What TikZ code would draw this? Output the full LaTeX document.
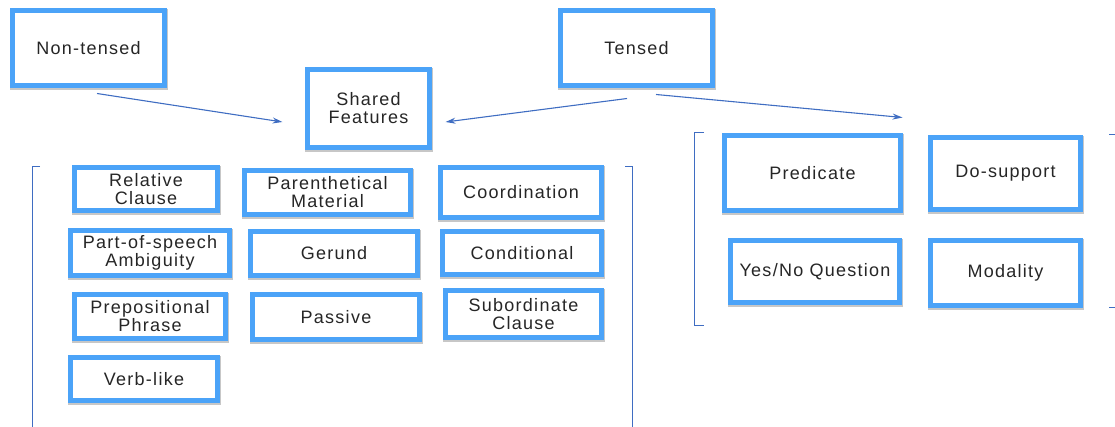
\documentclass[tikz,border=0pt]{standalone}
\usepackage{fontspec}
\usepackage{tikz}
\usetikzlibrary{arrows.meta}
\newfontfamily\boxfont{Liberation Sans}[LetterSpace=7]
\definecolor{boxblue}{HTML}{4BA3F8}
\definecolor{arrblue}{HTML}{3F6DC2}

\tikzset{
  feat/.style={draw=boxblue, line width=5pt, fill=white, align=center,
    inner sep=2pt, text=black!85,
    font=\boxfont\fontsize{18}{18}\selectfont,
    preaction={draw=black!22, line width=6pt,
      transform canvas={shift={(0.8pt,-1.2pt)}}}},
  brk/.style={draw=arrblue, line width=1pt},
}

\begin{document}
\begin{tikzpicture}[x=1pt, y=-1pt, >={Stealth[length=10pt,width=6pt]}]
\useasboundingbox (0,0) rectangle (1115,427);
% top level
\node[feat, minimum width=152pt, minimum height=75pt] (nont) at (88.5,48) {Non-tensed};
\node[feat, minimum width=152pt, minimum height=75pt] (tensed) at (636.5,48) {Tensed};
\node[feat, minimum width=122pt, minimum height=78pt] (shared) at (368.5,108.5) {Shared\\Features};
\draw[->, arrblue, line width=1.1pt] ([shift={(8.5,5.5)}]nont.south) -- ([shift={(-22.5,13.5)}]shared.west);
\draw[->, arrblue, line width=1.1pt] ([shift={(-9.5,10.5)}]tensed.south) -- ([shift={(13.5,13.5)}]shared.east);
% shared features
\draw[brk] (40,167) -- (32,167) -- (32,427);
\draw[brk] (625,167) -- (632,167) -- (632,427);
\node[feat, minimum width=143pt, minimum height=43pt] (rel) at (146,189) {Relative\\Clause};
\node[feat, minimum width=166pt, minimum height=44pt] (paren) at (327.5,192.5) {Parenthetical\\Material};
\node[feat, minimum width=161pt, minimum height=50pt] (coord) at (521,192.5) {Coordination};
\node[feat, minimum width=159pt, minimum height=45pt] (pos) at (150,253) {Part-of-speech\\Ambiguity};
\node[feat, minimum width=167pt, minimum height=44pt] (gerund) at (334,253.5) {Gerund};
\node[feat, minimum width=159pt, minimum height=43pt] (cond) at (522,253) {Conditional};
\node[feat, minimum width=151pt, minimum height=44pt] (prep) at (150,316.5) {Prepositional\\Phrase};
\node[feat, minimum width=167pt, minimum height=45pt] (passive) at (336,317) {Passive};
\node[feat, minimum width=156pt, minimum height=47pt] (subord) at (523.5,314) {Subordinate\\Clause};
\node[feat, minimum width=147pt, minimum height=43pt] (verb) at (144,379) {Verb-like};
% tensed only
\draw[brk] (704,133) -- (694,133) -- (694,325) -- (704,325);
\node[feat, minimum width=176pt, minimum height=75pt] (pred) at (812.5,173) {Predicate};
\node[feat, minimum width=150pt, minimum height=72pt] (dosup) at (1005.5,173.5) {Do-support};
\node[feat, minimum width=169pt, minimum height=62pt] (yesno) at (815,271.5) {Yes/No Question};
\node[feat, minimum width=150pt, minimum height=65pt] (modal) at (1005.5,273) {Modality};
\draw[->, arrblue, line width=1.1pt] ([shift={(19.5,6.5)}]tensed.south) -- ([shift={(-0.5,-15.5)}]pred.north east);
\draw[brk] (1109,135) -- (1115,135);
\draw[brk] (1109,307) -- (1115,307);
\end{tikzpicture}
\end{document}
